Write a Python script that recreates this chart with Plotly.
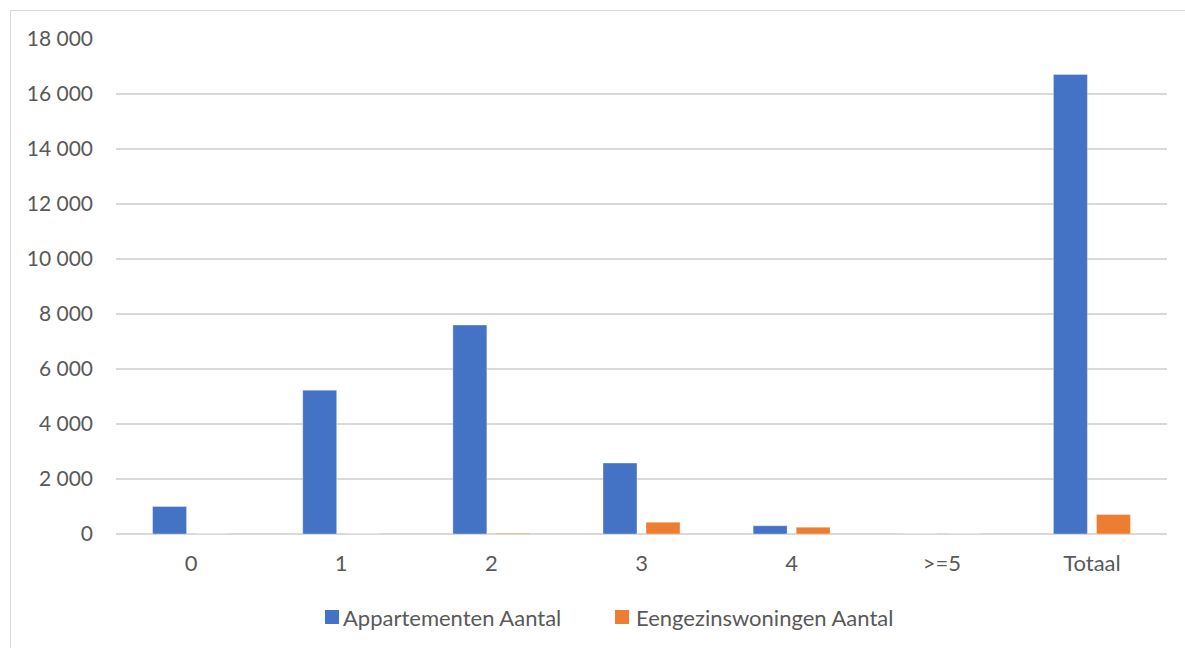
import plotly.graph_objects as go

categories = ["0", "1", "2", "3", "4", ">=5", "Totaal"]
appartementen = [1000, 5230, 7600, 2580, 300, 0, 16710]
eengezins = [0, 0, 30, 430, 250, 0, 710]
series_names = ["Appartementen Aantal", "Eengezinswoningen Aantal"]
series_colors = ["#4472C4", "#ED7D31"]
y_ticks = [0, 2000, 4000, 6000, 8000, 10000, 12000, 14000, 16000, 18000]
y_tick_labels = ["0", "2 000", "4 000", "6 000", "8 000", "10 000", "12 000", "14 000", "16 000", "18 000"]

font_family = "Lato, Carlito, 'Open Sans', sans-serif"
text_color = "#595959"
grid_color = "#D9D9D9"

fig = go.Figure()
for vals, name, col in zip([appartementen, eengezins], series_names, series_colors):
    fig.add_trace(go.Bar(
        x=categories, y=vals, name=name,
        marker=dict(color=col, line=dict(color="rgba(255,255,255,0.35)", width=1)),
    ))

W, H = 1185, 648
L, R, T, B = 116, 18, 39, 114
pw, ph = W - L - R, H - T - B

def px_x(px):
    return (px - L) / pw

def px_y(py):
    return (H - B - py) / ph

# chart frame (left and top edges visible)
frame_color = "#D9D9D9"
fig.add_shape(type="line", xref="paper", yref="paper",
              x0=px_x(10.5), x1=px_x(1190), y0=px_y(10.5), y1=px_y(10.5),
              line=dict(color=frame_color, width=1))
fig.add_shape(type="line", xref="paper", yref="paper",
              x0=px_x(10.5), x1=px_x(10.5), y0=px_y(10.5), y1=px_y(660),
              line=dict(color=frame_color, width=1))

# legend drawn manually to match spacing
legend_items = [(325, 341), (615, 634)]
for (sq_x, tx_x), name, col in zip(legend_items, series_names, series_colors):
    fig.add_shape(type="rect", xref="paper", yref="paper",
                  x0=px_x(sq_x), x1=px_x(sq_x + 14), y0=px_y(610), y1=px_y(624),
                  fillcolor=col, line=dict(width=0))
    fig.add_annotation(xref="paper", yref="paper", x=px_x(tx_x), y=px_y(617),
                       xanchor="left", yanchor="middle", showarrow=False,
                       text=name, font=dict(family=font_family, size=22, color=text_color))

fig.update_layout(
    width=W, height=H,
    margin=dict(l=L, r=R, t=T, b=B, pad=0),
    paper_bgcolor="white", plot_bgcolor="white",
    barmode="group", bargap=0.427, bargroupgap=0.21,
    font=dict(family=font_family, size=21, color=text_color),
    showlegend=False,
    xaxis=dict(
        showgrid=False, showline=False, zeroline=False, ticks="",
        tickfont=dict(family=font_family, size=22, color=text_color),
        ticklabelstandoff=14,
    ),
    yaxis=dict(
        range=[0, 18000], tickvals=y_ticks, ticktext=y_tick_labels,
        showgrid=True, gridcolor=grid_color, gridwidth=1.5,
        zeroline=True, zerolinecolor=grid_color, zerolinewidth=1.5,
        showline=False, ticks="",
        tickfont=dict(family=font_family, size=21, color=text_color),
        ticklabelstandoff=22,
    ),
)

fig.write_html("out.html")
